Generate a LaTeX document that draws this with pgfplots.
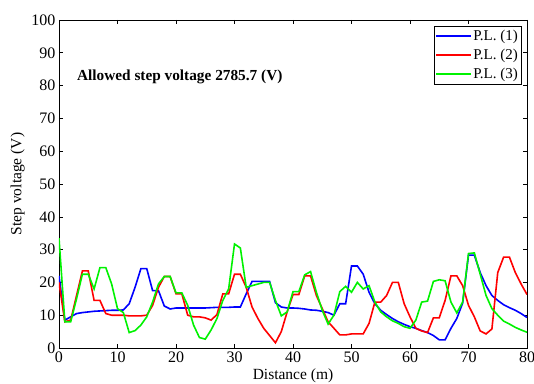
\documentclass[border=0pt]{standalone}
\usepackage{fontspec}
\setmainfont{Liberation Serif}
\usepackage{pgfplots}
\pgfplotsset{compat=1.18}
\usepackage{pgfplotstable}
\usetikzlibrary{calc}

\pgfplotstableread{
x b r g
0 22 20 33.5
1 8.5 8 8
2 9.5 8.5 8
3 10.5 16 15
4 10.8 23.5 22.5
5 11 23.5 22.5
6 11.2 14.5 18
7 11.3 14.5 24.5
8 11.4 10.5 24.5
9 11.5 10 19.5
10 11.5 10 12
11 11.6 10 10.8
12 13.5 9.8 4.7
13 18.5 9.8 5.3
14 24.2 9.8 7
15 24.2 10 9.5
16 17.5 13 14
17 17.5 18.5 19.5
18 12.8 21.8 21.8
19 11.9 21.8 21.8
20 12.2 16.5 16.8
21 12.2 16.5 16.8
22 12.2 10 13
23 12.2 9.5 7
24 12.2 9.5 3.2
25 12.2 9.2 2.7
26 12.3 8.5 5.5
27 12.4 10.2 9
28 12.4 16.5 14.5
29 12.4 16.5 18
30 12.5 22.5 31.7
31 12.5 22.5 30.5
32 16.5 18.5 18.5
33 20.3 12.5 19
34 20.3 9 19.5
35 20.3 6 20
36 20.3 3.8 20
37 13.8 1.6 14.5
38 12.5 5 9.8
39 12.2 11 11
40 12.2 16.3 17.2
41 12.1 16.3 17.2
42 11.9 22 22.3
43 11.6 22 23.3
44 11.5 16 17
45 11.2 12 11.5
46 10.8 8 7.3
47 10 6 10
48 13.5 4 17.2
49 13.5 4 18.8
50 25 4.3 17
51 25 4.3 20
52 22.5 4.3 18
53 17 7.5 19
54 13.5 14 14
55 11.5 14 11
56 10.2 16 9.5
57 9 20 8.3
58 8 20 7.5
59 7.2 13.5 6.5
60 6.5 9.5 6
61 6 6 8.5
62 5.3 5.2 14
63 4.7 4.7 14.3
64 3.8 9.2 20.3
65 2.5 9.2 20.8
66 2.5 14.5 20.5
67 6 22 14
68 9 22 10.7
69 13.7 19 14
70 28.3 13 28.8
71 28.3 9.5 29
72 23 5.2 22.5
73 19 4.3 16
74 16 5.8 12
75 14.5 23 10
76 13.2 27.7 8.2
77 12.3 27.7 7.3
78 11.5 23 6.3
79 10.5 19.5 5.5
80 9.3 16.3 4.8
}\datatab

\begin{document}
\begin{tikzpicture}[x=1pt,y=1pt]
\begin{axis}[
  name=ax,
  scale only axis,
  width=468pt, height=328pt,
  xmin=0, xmax=80, ymin=0, ymax=100,
  xtick={0,10,...,80}, ytick={0,10,...,100},
  tick align=inside,
  major tick length=4pt,
  tick style={black, line width=0.6pt},
  axis line style={black, line width=0.8pt},
  ticklabel style={font=\fontsize{16}{18}\selectfont},
  /pgf/number format/assume math mode=true,
  xlabel={Distance (m)},
  ylabel={Step voltage (V)},
  label style={font=\fontsize{15.5}{17}\selectfont},
  xlabel style={yshift=0pt},
  legend style={at={(0.99,0.982)}, anchor=north east, draw=black, line width=0.9pt,
    font=\fontsize{15}{17}\selectfont, inner xsep=2pt, inner ysep=2pt, row sep=3pt},
  legend cell align=left,
  legend image code/.code={\fill[#1, draw=none] (0pt,-0.9pt) rectangle (35pt,0.9pt);},
]
\addplot[blue, line width=1.6pt] table[x=x,y=b]{\datatab};
\addplot[red, line width=1.6pt] table[x=x,y=r]{\datatab};
\addplot[green!95!black, line width=1.6pt] table[x=x,y=g]{\datatab};
\legend{P.L. (1),P.L. (2),P.L. (3)}
\node[anchor=west, font=\bfseries\fontsize{15.3}{17}\selectfont] at (axis cs:2.5,82.6) {Allowed step voltage 2785.7 (V)};
\end{axis}
\pgfresetboundingbox
\path ($(ax.south west)+(-59pt,-35pt)$) rectangle ($(ax.north east)+(7pt,20pt)$);
\end{tikzpicture}
\end{document}
